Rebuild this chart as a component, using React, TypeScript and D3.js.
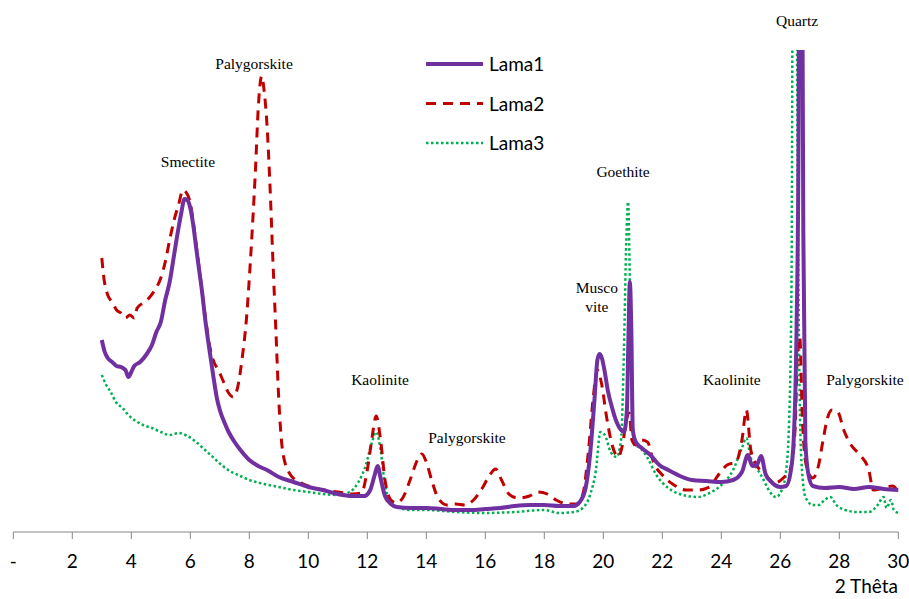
import React from "react";
import * as d3 from "d3";

// 2 Theta positions and intensities (arbitrary units)
const lama1: [number, number][] = [
  [3.0, 192], [3.1, 180], [3.2, 174], [3.35, 170], [3.5, 166], [3.65, 165], [3.8, 162], [3.9, 155],
  [4.0, 160], [4.1, 166], [4.3, 170], [4.5, 177], [4.7, 187], [4.85, 200], [5.0, 210], [5.15, 232],
  [5.3, 250], [5.45, 277], [5.6, 304], [5.7, 320], [5.8, 333], [5.9, 332], [6.0, 324], [6.1, 307],
  [6.2, 284], [6.3, 262], [6.4, 240], [6.5, 214], [6.6, 192], [6.7, 172], [6.8, 152], [6.9, 134],
  [7.0, 122], [7.15, 110], [7.3, 100], [7.5, 90], [7.7, 82], [8.0, 72], [8.3, 66], [8.6, 62],
  [9.0, 55], [9.5, 50], [10.0, 45], [10.5, 42], [11.0, 38], [11.5, 36], [11.9, 36], [12.1, 42],
  [12.25, 57], [12.35, 66], [12.45, 54], [12.6, 36], [12.8, 28], [13.0, 25], [13.5, 24], [14.0, 24],
  [14.5, 23], [15.0, 22], [15.5, 22], [16.0, 23], [16.5, 24], [17.0, 26], [17.5, 27], [18.0, 27],
  [18.5, 26], [19.0, 26], [19.2, 30], [19.4, 44], [19.55, 77], [19.7, 132], [19.8, 172], [19.87, 178],
  [19.95, 174], [20.05, 160], [20.15, 142], [20.3, 124], [20.45, 110], [20.6, 102], [20.7, 100],
  [20.8, 122], [20.85, 192], [20.9, 250], [20.95, 202], [21.0, 102], [21.1, 90], [21.3, 84],
  [21.6, 77], [21.9, 67], [22.2, 62], [22.6, 56], [23.0, 52], [23.5, 51], [24.0, 50], [24.4, 52],
  [24.7, 60], [24.9, 77], [25.05, 66], [25.2, 67], [25.35, 76], [25.5, 58], [25.7, 50], [26.0, 45],
  [26.2, 46], [26.35, 60], [26.45, 90], [26.55, 200], [26.62, 400], [26.65, 700], [26.72, 700],
  [26.78, 300], [26.85, 90], [26.95, 58], [27.1, 46], [27.5, 44], [28.0, 45], [28.5, 43], [29.0, 45],
  [29.5, 43], [30.0, 42],
];

const lama2: [number, number][] = [
  [3.0, 274], [3.08, 252], [3.2, 237], [3.35, 230], [3.5, 222], [3.65, 219], [3.8, 214], [3.95, 217],
  [4.1, 214], [4.2, 224], [4.4, 229], [4.6, 234], [4.8, 242], [5.0, 254], [5.15, 270], [5.3, 292],
  [5.45, 312], [5.6, 327], [5.75, 342], [5.85, 340], [6.0, 329], [6.1, 310], [6.2, 287], [6.35, 252],
  [6.5, 217], [6.65, 187], [6.8, 170], [6.95, 162], [7.1, 152], [7.3, 139], [7.45, 135], [7.6, 144],
  [7.75, 172], [7.9, 212], [8.05, 277], [8.2, 357], [8.32, 432], [8.42, 456], [8.5, 442], [8.6, 407],
  [8.7, 347], [8.8, 272], [8.9, 202], [9.0, 132], [9.15, 77], [9.4, 57], [9.7, 50], [10.0, 46],
  [10.5, 42], [11.0, 40], [11.5, 38], [11.8, 39], [12.0, 62], [12.15, 92], [12.3, 116], [12.45, 92],
  [12.6, 52], [12.8, 32], [13.0, 29], [13.2, 34], [13.45, 52], [13.7, 72], [13.85, 78], [14.0, 70],
  [14.2, 50], [14.4, 34], [14.7, 27], [15.0, 28], [15.3, 27], [15.6, 32], [15.9, 44], [16.15, 57],
  [16.35, 63], [16.55, 52], [16.8, 38], [17.1, 34], [17.5, 36], [17.8, 40], [18.1, 38], [18.4, 32],
  [18.8, 28], [19.1, 28], [19.3, 37], [19.5, 82], [19.65, 132], [19.8, 162], [19.95, 147], [20.1, 117],
  [20.3, 87], [20.5, 75], [20.65, 87], [20.8, 114], [20.88, 119], [20.97, 92], [21.1, 87], [21.3, 92],
  [21.5, 90], [21.7, 70], [22.0, 57], [22.4, 47], [22.8, 42], [23.2, 42], [23.6, 45], [23.9, 57],
  [24.2, 67], [24.5, 70], [24.7, 92], [24.85, 122], [25.0, 82], [25.2, 67], [25.5, 57], [25.8, 49],
  [26.1, 54], [26.35, 64], [26.5, 102], [26.6, 192], [26.66, 195], [26.75, 112], [26.9, 64],
  [27.1, 54], [27.3, 67], [27.45, 92], [27.6, 114], [27.75, 122], [27.95, 120], [28.15, 102],
  [28.4, 87], [28.7, 77], [29.0, 62], [29.15, 42], [29.5, 44], [29.8, 46], [30.0, 40],
];

const lama3: [number, number][] = [
  [3.0, 157], [3.15, 147], [3.3, 140], [3.5, 129], [3.7, 124], [3.9, 117], [4.1, 112], [4.4, 107],
  [4.7, 104], [5.0, 100], [5.3, 97], [5.6, 99], [5.9, 96], [6.2, 90], [6.5, 82], [6.8, 74],
  [7.1, 66], [7.4, 60], [7.7, 56], [8.0, 52], [8.5, 48], [9.0, 45], [9.5, 42], [10.0, 40],
  [10.5, 38], [11.0, 37], [11.4, 40], [11.7, 50], [11.95, 67], [12.15, 89], [12.3, 100], [12.45, 82],
  [12.6, 47], [12.8, 29], [13.1, 24], [13.5, 22], [14.0, 22], [15.0, 20], [16.0, 19], [17.0, 20],
  [18.0, 22], [18.5, 19], [19.0, 20], [19.3, 24], [19.55, 37], [19.75, 62], [19.9, 100], [20.05, 97],
  [20.25, 80], [20.45, 75], [20.6, 92], [20.7, 182], [20.78, 292], [20.84, 330], [20.9, 252],
  [20.97, 132], [21.05, 87], [21.25, 84], [21.5, 74], [21.8, 57], [22.2, 44], [22.7, 37], [23.2, 35],
  [23.6, 39], [24.0, 47], [24.4, 62], [24.7, 84], [24.85, 94], [25.0, 74], [25.2, 64], [25.4, 54],
  [25.65, 40], [25.85, 35], [26.05, 42], [26.2, 62], [26.3, 112], [26.38, 250], [26.44, 700],
  [26.52, 700], [26.6, 300], [26.7, 80], [26.85, 35], [27.1, 27], [27.3, 27], [27.5, 32], [27.7, 35],
  [27.9, 27], [28.2, 22], [28.6, 20], [29.0, 20], [29.3, 27], [29.5, 35], [29.6, 24], [29.75, 32],
  [29.85, 22], [30.0, 19],
];

const tickValues = [0, 2, 4, 6, 8, 10, 12, 14, 16, 18, 20, 22, 24, 26, 28, 30];
const tickLabels = ["-", "2", "4", "6", "8", "10", "12", "14", "16", "18", "20", "22", "24", "26", "28", "30"];

const seriesNames = ["Lama1", "Lama2", "Lama3"];

// mineral annotations: label lines, 2 Theta, intensity at the text baseline
const annotations: { lines: string[]; x: number; v: number }[] = [
  { lines: ["Smectite"], x: 5.92, v: 365 },
  { lines: ["Palygorskite"], x: 8.16, v: 463 },
  { lines: ["Kaolinite"], x: 12.43, v: 147 },
  { lines: ["Palygorskite"], x: 15.38, v: 89 },
  { lines: ["Musco", "vite"], x: 19.78, v: 220 },
  { lines: ["Goethite"], x: 20.67, v: 355 },
  { lines: ["Quartz"], x: 26.57, v: 506 },
  { lines: ["Kaolinite"], x: 24.36, v: 147 },
  { lines: ["Palygorskite"], x: 28.87, v: 147 },
];

const W = 909;
const H = 599;

export default function App() {
  const x = d3.scaleLinear().domain([0, 30]).range([13.3, 898.3]);
  const y = d3.scaleLinear().domain([0, 482]).range([532, 50]);

  const line = d3
    .line<[number, number]>()
    .x((d) => x(d[0]))
    .y((d) => y(d[1]))
    .curve(d3.curveMonotoneX);

  const styles = [
    { color: "#7030A0", width: 4, dash: undefined as string | undefined },
    { color: "#C00000", width: 3, dash: "10,7" },
    { color: "#00B050", width: 2.5, dash: "2.5,2.5" },
  ];
  const data = [lama1, lama2, lama3];

  const sans = "Lato, 'Liberation Sans', sans-serif";
  const serif = "'Liberation Serif', 'Times New Roman', serif";

  return (
    <svg
      width={W}
      height={H}
      style={{ position: "absolute", left: 0, top: 0, background: "#fff" }}
    >
      <defs>
        <clipPath id="plot">
          <rect x={0} y={50} width={W} height={482} />
        </clipPath>
      </defs>

      {/* x axis */}
      <line x1={x(0)} x2={x(30)} y1={532} y2={532} stroke="#868686" strokeWidth={1} />
      {tickValues.map((t, i) => (
        <g key={t}>
          <line x1={x(t)} x2={x(t)} y1={532} y2={539} stroke="#868686" strokeWidth={1} />
          <text
            x={x(t)}
            y={568}
            textAnchor="middle"
            fontFamily={sans}
            fontSize={19}
            fill="#000"
          >
            {tickLabels[i]}
          </text>
        </g>
      ))}
      <text x={898} y={593} textAnchor="end" fontFamily={sans} fontSize={19} fill="#000">
        2 Thêta
      </text>

      {/* series, drawn back to front */}
      <g clipPath="url(#plot)">
        {[2, 1, 0].map((i) => (
          <path
            key={i}
            d={line(data[i]) || ""}
            fill="none"
            stroke={styles[i].color}
            strokeWidth={styles[i].width}
            strokeDasharray={styles[i].dash}
            strokeLinejoin="round"
          />
        ))}
      </g>

      {/* mineral labels */}
      {annotations.map((a, i) => (
        <text
          key={i}
          x={x(a.x)}
          y={y(a.v) - (a.lines.length - 1) * 19}
          textAnchor="middle"
          fontFamily={serif}
          fontSize={15.5}
          fill="#000"
        >
          {a.lines.map((l, j) => (
            <tspan key={j} x={x(a.x)} dy={j === 0 ? 0 : 19}>
              {l}
            </tspan>
          ))}
        </text>
      ))}

      {/* legend */}
      {seriesNames.map((n, i) => (
        <g key={n} transform={`translate(426, ${64 + i * 39.5})`}>
          <line
            x1={0}
            x2={57}
            y1={0}
            y2={0}
            stroke={styles[i].color}
            strokeWidth={styles[i].width}
            strokeDasharray={styles[i].dash}
          />
          <text x={63} y={7} fontFamily={sans} fontSize={19} fill="#000">
            {n}
          </text>
        </g>
      ))}
    </svg>
  );
}
